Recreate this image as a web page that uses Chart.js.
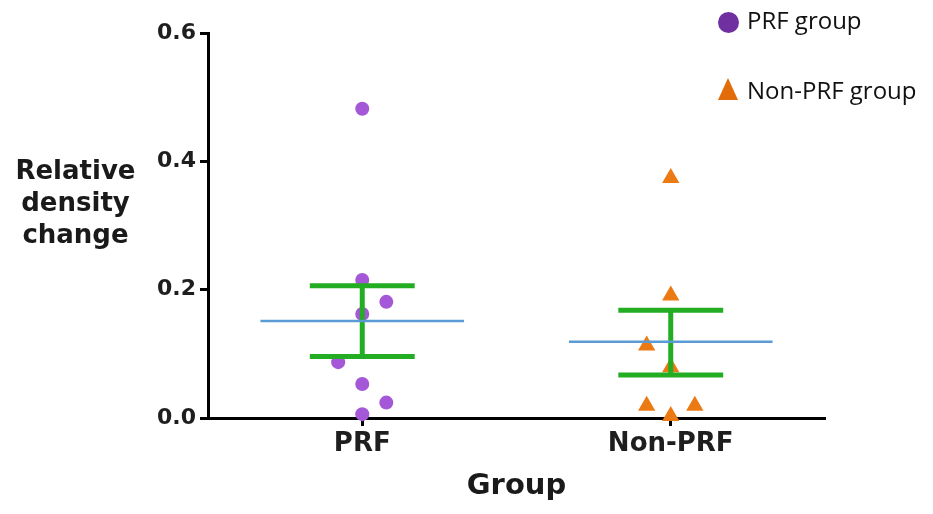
<!DOCTYPE html>
<html>
<head>
<meta charset="utf-8">
<script src="https://cdn.jsdelivr.net/npm/chart.js@4.4.1/dist/chart.umd.min.js"></script>
<style>
  html, body { margin: 0; padding: 0; background: #fff; }
  #wrap { position: relative; width: 933px; height: 514px; overflow: hidden; }
  #yTitle {
    position: absolute; left: 0; top: 154px; width: 151px;
    text-align: center; font: bold 26px "DejaVu Sans", sans-serif;
    line-height: 32px; color: #1a1a1a;
  }
  .legText { position: absolute; left: 747px; font: 24px "Open Sans", sans-serif; line-height: 24px; color: #111; white-space: nowrap; }
  .legDot { position: absolute; left: 718px; top: 12px; width: 21px; height: 21px; border-radius: 50%; background: #7030a0; }
  .legTri { position: absolute; left: 718px; top: 78px; width: 0; height: 0;
    border-left: 10.5px solid transparent; border-right: 10.5px solid transparent; border-bottom: 22px solid #e36c0a; }
</style>
</head>
<body>
<div id="wrap">
  <canvas id="chart" width="933" height="514"></canvas>
  <div id="yTitle">Relative<br>density<br>change</div>
  <div class="legDot"></div>
  <div class="legText" style="top:8px">PRF group</div>
  <div class="legTri"></div>
  <div class="legText" style="top:78px">Non-PRF group</div>
</div>
<script>
// categories and tick labels
const categories = ['PRF', 'Non-PRF'];
const yTicks = [0, 0.2, 0.4, 0.6];

// individual values, with the jitter column each point was plotted in
const prfValues = [0.482, 0.215, 0.181, 0.162, 0.087, 0.053, 0.024, 0.006];
const prfColumns = [0, 0, 1, 0, -1, 0, 1, 0];
const nonPrfValues = [0.374, 0.191, 0.113, 0.079, 0.019, 0.019, 0.003];
const nonPrfColumns = [0, 0, -1, 0, -1, 1, 0];

// summary: mean and mean +/- SEM
const means = [0.151, 0.119];
const semUpper = [0.206, 0.168];
const semLower = [0.096, 0.067];

const jitterStep = 0.078;
const meanHalf = 0.33;
const capHalf = 0.17;
const blue = '#5b9bd5';
const green = '#22ad22';

function points(values, columns, idx) {
  return values.map((v, k) => ({ x: idx + columns[k] * jitterStep, y: v }));
}

function segment(data, color, width, order) {
  return {
    data: data, showLine: true, borderColor: color, borderWidth: width,
    pointRadius: 0, order: order, clip: false, borderCapStyle: 'butt'
  };
}

const datasets = [
  {
    label: 'PRF group', data: points(prfValues, prfColumns, 0),
    pointStyle: 'circle', pointRadius: 7, backgroundColor: '#a457d6',
    borderColor: '#a457d6', borderWidth: 0, order: 3, clip: false
  },
  {
    label: 'Non-PRF group', data: points(nonPrfValues, nonPrfColumns, 1),
    pointStyle: 'triangle', pointRadius: 10, backgroundColor: '#ec7a14',
    borderColor: '#ec7a14', borderWidth: 0, order: 3, clip: false
  }
];

categories.forEach((c, i) => {
  datasets.push(segment([{ x: i, y: semLower[i] }, { x: i, y: semUpper[i] }], green, 5, 2));
  datasets.push(segment([{ x: i - capHalf, y: semUpper[i] }, { x: i + capHalf, y: semUpper[i] }], green, 5, 2));
  datasets.push(segment([{ x: i - capHalf, y: semLower[i] }, { x: i + capHalf, y: semLower[i] }], green, 5, 2));
  datasets.push(segment([{ x: i - meanHalf, y: means[i] }, { x: i + meanHalf, y: means[i] }], blue, 2.5, 1));
});

const tickFont = { family: '"DejaVu Sans", sans-serif', weight: 'bold' };

new Chart(document.getElementById('chart'), {
  type: 'scatter',
  data: { datasets: datasets },
  options: {
    responsive: false,
    animation: false,
    layout: { padding: { left: 143, right: 108, top: 33, bottom: 0 } },
    plugins: { legend: { display: false }, tooltip: { enabled: false } },
    scales: {
      x: {
        type: 'linear', min: -0.5, max: 1.5,
        afterBuildTicks: (axis) => { axis.ticks = categories.map((c, i) => ({ value: i })); },
        afterFit: (axis) => { axis.height = 96; },
        ticks: {
          callback: (v) => categories[v] ?? '',
          font: Object.assign({ size: 26 }, tickFont), color: '#1e1e1e', padding: 3
        },
        grid: { drawOnChartArea: false, tickLength: 8, tickWidth: 3, tickColor: '#000' },
        border: { color: '#000', width: 3 },
        title: {
          display: true, text: 'Group', color: '#1a1a1a',
          font: Object.assign({ size: 29 }, tickFont), padding: { top: 4, bottom: 10 }
        }
      },
      y: {
        min: 0, max: 0.6,
        afterBuildTicks: (axis) => { axis.ticks = yTicks.map((v) => ({ value: v })); },
        afterFit: (axis) => { axis.width = 65; },
        ticks: {
          callback: (v) => v.toFixed(1),
          font: Object.assign({ size: 22 }, tickFont), color: '#1e1e1e', padding: 4
        },
        grid: { drawOnChartArea: false, tickLength: 8, tickWidth: 3, tickColor: '#000' },
        border: { color: '#000', width: 3 }
      }
    }
  }
});
</script>
</body>
</html>
